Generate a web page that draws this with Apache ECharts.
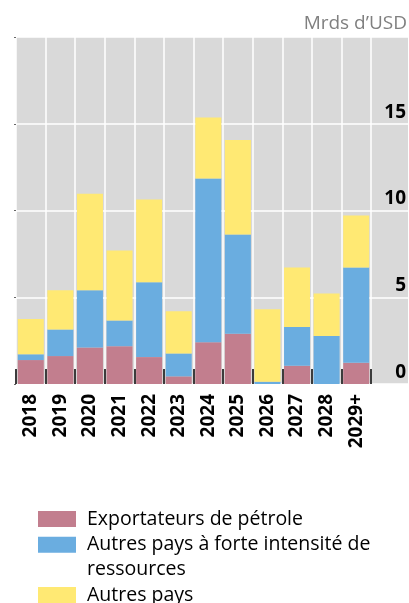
<!DOCTYPE html>
<html>
<head>
<meta charset="utf-8">
<script src="https://cdn.jsdelivr.net/npm/echarts@6/dist/echarts.min.js"></script>
<style>
  html, body { margin: 0; padding: 0; background: #fff; }
  #chart { width: 409px; height: 603px; }
</style>
</head>
<body>
<div id="chart"></div>
<script>
var years = ['2018', '2019', '2020', '2021', '2022', '2023', '2024', '2025', '2026', '2027', '2028', '2029+']
var petrole = [1.38, 1.61, 2.11, 2.18, 1.55, 0.44, 2.41, 2.89, 0, 1.05, 0, 1.22]
var ressources = [0.33, 1.53, 3.29, 1.48, 4.31, 1.32, 9.43, 5.73, 0.13, 2.23, 2.76, 5.50]
var autres = [2.04, 2.26, 5.56, 4.04, 4.77, 2.44, 3.52, 5.44, 4.18, 3.43, 2.45, 2.99]
var yTicks = [0, 5, 10, 15]

var FONT = 'Open Sans'
var GRAY = '#d9d9d9'

var chart = echarts.init(document.getElementById('chart'))

function legendAt(name, top, label) {
  return {
    data: [name],
    left: 38,
    top: top,
    padding: 0,
    icon: 'rect',
    itemWidth: 38,
    itemHeight: 16,
    itemGap: 0,
    selectedMode: false,
    formatter: function () { return label },
    textStyle: { fontFamily: FONT, fontSize: 19.5, color: '#000', lineHeight: 25, padding: [0, 0, 0, 6] }
  }
}

chart.setOption({
  animation: false,
  title: {
    text: 'Mrds d\u2019USD',
    right: 2,
    top: 14,
    padding: 0,
    textStyle: { fontFamily: FONT, fontSize: 19, fontWeight: 'normal', color: '#808080' }
  },
  legend: [
    legendAt('Exportateurs de pétrole', 506.5, 'Exportateurs de pétrole'),
    // blank first line keeps the icon next to the first text line
    legendAt('Autres pays à forte intensité de ressources', 507.2, '\nAutres pays à forte intensité de\nressources'),
    legendAt('Autres pays', 582.5, 'Autres pays')
  ],
  grid: [
    { left: 16, right: 38, top: 37, bottom: 219, show: true, backgroundColor: GRAY, borderWidth: 0 },
    { left: 371, right: 0, top: 37, bottom: 219, show: true, backgroundColor: GRAY, borderWidth: 0 }
  ],
  xAxis: [
    {
      gridIndex: 0,
      type: 'category',
      data: years,
      axisLine: { show: false },
      axisTick: { show: true, inside: true, length: 15, lineStyle: { color: '#3c3c3c', width: 2 } },
      splitLine: { show: true, interval: 0, lineStyle: { color: '#fff', width: 1.5 } },
      axisLabel: { rotate: 90, margin: 10, interval: 0, fontFamily: FONT, fontSize: 19, fontWeight: 'bold', color: '#000' }
    },
    { gridIndex: 1, type: 'value', show: false }
  ],
  yAxis: [
    {
      gridIndex: 0,
      type: 'value',
      min: 0,
      max: 20,
      interval: 5,
      axisLine: { show: false },
      axisTick: { show: true, length: 2, lineStyle: { color: '#666' } },
      axisLabel: { show: false },
      splitLine: { lineStyle: { color: '#fff', width: 1.5 } }
    },
    {
      gridIndex: 1,
      type: 'value',
      position: 'right',
      min: 0,
      max: 20,
      interval: 5,
      axisLine: { show: false },
      axisTick: { show: false },
      splitLine: { lineStyle: { color: '#fff', width: 1.5 } },
      axisLabel: {
        inside: true,
        margin: 2,
        showMaxLabel: false,
        verticalAlign: 'bottom',
        padding: [0, 0, 2, 0],
        fontFamily: FONT,
        fontSize: 19,
        fontWeight: 'bold',
        color: '#000',
        formatter: function (v) { return yTicks.indexOf(v) >= 0 ? String(v) : '' }
      }
    }
  ],
  series: [
    { name: 'Exportateurs de pétrole', type: 'bar', stack: 'total', barWidth: 26, data: petrole, itemStyle: { color: '#c27e8e' } },
    { name: 'Autres pays à forte intensité de ressources', type: 'bar', stack: 'total', barWidth: 26, data: ressources, itemStyle: { color: '#6aade0' } },
    { name: 'Autres pays', type: 'bar', stack: 'total', barWidth: 26, data: autres, itemStyle: { color: '#ffe973' } }
  ]
})
</script>
</body>
</html>
